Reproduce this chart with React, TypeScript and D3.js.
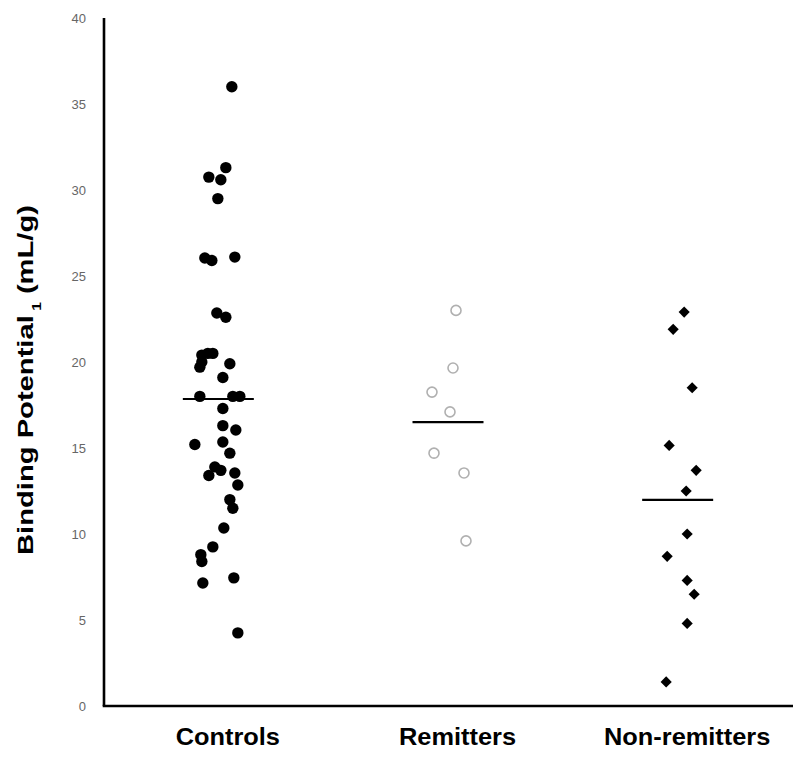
import React from "react";
import * as d3 from "d3";

const categories = ["Controls", "Remitters", "Non-remitters"];

const controlsValues = [36.0, 31.3, 30.75, 30.6, 29.5, 26.05, 25.9, 26.1, 22.85, 22.6, 20.4, 20.5, 20.5, 20.0, 19.7, 19.9, 19.1, 18.0, 18.0, 18.0, 17.3, 16.3, 16.05, 15.2, 15.35, 14.7, 13.9, 13.4, 13.7, 13.55, 12.85, 12.0, 11.5, 10.35, 9.25, 8.8, 8.4, 7.15, 7.45, 4.25];
const controlsJitter = [0.52, 0.28, -0.4, 0.08, -0.04, -0.56, -0.28, 0.64, -0.08, 0.28, -0.68, -0.44, -0.24, -0.68, -0.76, 0.44, 0.16, -0.76, 0.56, 0.84, 0.16, 0.16, 0.68, -0.96, 0.16, 0.44, -0.16, -0.4, 0.08, 0.64, 0.76, 0.44, 0.56, 0.2, -0.24, -0.72, -0.68, -0.64, 0.6, 0.76];

const remittersValues = [23.0, 19.65, 18.25, 17.1, 14.7, 13.55, 9.6];
const remittersJitter = [0.3, 0.18, -0.66, 0.06, -0.58, 0.62, 0.7];

const nonRemittersValues = [22.9, 21.9, 18.5, 15.15, 13.7, 12.5, 10.0, 8.7, 7.3, 6.5, 4.8, 1.4];
const nonRemittersJitter = [0.24, -0.2, 0.56, -0.36, 0.72, 0.32, 0.36, -0.44, 0.36, 0.64, 0.36, -0.48];

const groupMeans = [17.85, 16.5, 11.98];

const yTicks = [0, 5, 10, 15, 20, 25, 30, 35, 40];

export default function App() {
  const W = 800;
  const H = 763;
  const x0 = 104;
  const x1 = 793;
  const yBottom = 706;
  const yTop = 18;
  const jitterWidth = 25;

  const x = d3.scalePoint<string>().domain(categories).range([x0, x1]).padding(0.5);
  const y = d3.scaleLinear().domain([0, 40]).range([yBottom, yTop]);

  const diamond = d3.symbol().type(d3.symbolSquare).size(62)() as string;

  const controls = controlsValues.map((v, i) => ({ v, j: controlsJitter[i] }));
  const remitters = remittersValues.map((v, i) => ({ v, j: remittersJitter[i] }));
  const nonRem = nonRemittersValues.map((v, i) => ({ v, j: nonRemittersJitter[i] }));

  const font = "'Liberation Sans', Arial, Helvetica, sans-serif";

  return (
    <svg width={W} height={H} style={{ position: "absolute", left: 0, top: 0, background: "#fff" }}>
      {/* y tick labels */}
      {yTicks.map((t) => (
        <text key={t} x={86} y={y(t)} dy="0.35em" textAnchor="end" fontFamily={font} fontSize={13} fill="#666">
          {t}
        </text>
      ))}
      {/* axes */}
      <line x1={x0} x2={x0} y1={yTop} y2={yBottom} stroke="#000" strokeWidth={2.6} />
      <line x1={x0 - 1.3} x2={x1} y1={yBottom} y2={yBottom} stroke="#000" strokeWidth={2.6} />

      {/* y title */}
      <text
        transform={`translate(33, ${(555 + 205) / 2}) rotate(-90)`}
        textAnchor="middle"
        fontFamily={font}
        fontWeight="bold"
        fontSize={22.5}
        fill="#000"
        textLength={350}
        lengthAdjust="spacingAndGlyphs"
      >
        Binding Potential
        <tspan fontSize={12} dy={8}>{" 1"}</tspan>
        <tspan dy={-8}>{"  (mL/g)"}</tspan>
      </text>

      {/* x labels */}
      {categories.map((c) => (
        <text key={c} x={(x(c) as number) + 9} y={745} textAnchor="middle" fontFamily={font} fontWeight="bold" fontSize={23.5} fill="#000" transform={`translate(${((x(c) as number) + 9) * (1 - 1.08)},0) scale(1.08,1)`}>
          {c}
        </text>
      ))}

      {/* controls */}
      {controls.map((d, i) => (
        <circle key={"c" + i} cx={(x("Controls") as number) + d.j * jitterWidth} cy={y(d.v)} r={5.7} fill="#000" />
      ))}
      {/* remitters */}
      {remitters.map((d, i) => (
        <circle key={"r" + i} cx={(x("Remitters") as number) + d.j * jitterWidth} cy={y(d.v)} r={5} fill="none" stroke="#b0b0b0" strokeWidth={1.6} />
      ))}
      {/* non-remitters */}
      {nonRem.map((d, i) => (
        <path key={"n" + i} d={diamond} transform={`translate(${(x("Non-remitters") as number) + d.j * jitterWidth},${y(d.v)}) rotate(45)`} fill="#000" />
      ))}

      {/* mean lines */}
      {categories.map((c, i) => (
        <line key={"m" + c} x1={(x(c) as number) - 36} x2={(x(c) as number) + 35} y1={y(groupMeans[i])} y2={y(groupMeans[i])} stroke="#000" strokeWidth={2.2} />
      ))}
    </svg>
  );
}
